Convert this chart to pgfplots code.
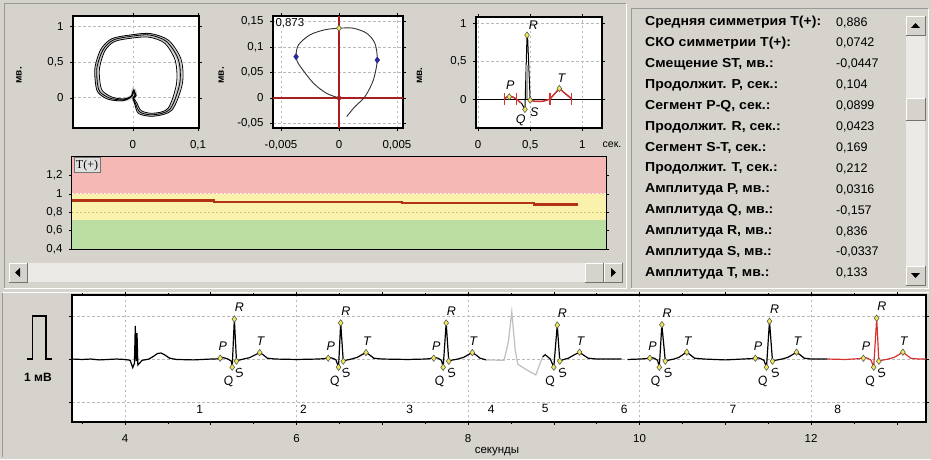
\documentclass[border=0pt]{standalone}
\usepackage{pgfplots}
\pgfplotsset{compat=1.18}
\usepackage{fontspec}
\setmainfont{Liberation Sans}
\newfontfamily\tserif{Liberation Serif}
\definecolor{bg}{RGB}{214,211,205}
\definecolor{track}{RGB}{236,234,230}
\definecolor{zred}{RGB}{246,184,180}
\definecolor{zyel}{RGB}{250,242,172}
\definecolor{zgrn}{RGB}{186,222,162}
\definecolor{tline}{RGB}{178,52,20}
\definecolor{mk}{RGB}{238,232,90}
\definecolor{dred}{RGB}{170,30,30}
\definecolor{navy}{RGB}{40,40,150}
\definecolor{ecgred}{RGB}{215,50,50}
\pgfplotsset{
  panel/.style={scale only axis, anchor=south west,
    axis line style={black, line width=1.3pt},
    axis background/.style={fill=white},
    tick label style={font=\fontsize{11.5}{11.5}\selectfont, black},
    xticklabel style={yshift=-6pt}, yticklabel style={xshift=-3pt},
    tick align=outside, major tick length=3pt, minor tick length=2pt,
    tick style={black, line width=0.6pt},
    grid=major, major grid style={gray!55, dash pattern=on 2.5pt off 2.5pt, line width=0.8pt},
    label style={font=\fontsize{10}{10}\selectfont\bfseries},
    clip=true},
  mkr/.style={only marks, mark=diamond*, mark size=3.2pt,
    mark options={fill=mk, draw=black!70, line width=0.5pt}},
}
\tikzset{lab/.style={font=\fontsize{12.5}{12.5}\selectfont\itshape, inner sep=0pt}}
\newcommand{\tabrow}[3]{%
  \node[anchor=west, inner sep=0pt, font=\fontsize{13}{13}\selectfont\bfseries] at (645,{459-#1}) {\scalebox{1.08}[1]{#2}};
  \node[anchor=west, inner sep=0pt, font=\fontsize{12.5}{12.5}\selectfont] at (836,{459-#1}) {#3};}
\begin{document}
\begin{tikzpicture}[x=1pt,y=1pt]
\fill[bg] (0,0) rectangle (931,459);
% panel frames (sunken)
\draw[black!40, line width=1pt] (4,171) -- (4,455) -- (626,455);
\draw[white, line width=1pt] (4,171) -- (626,171) -- (626,455);
\draw[black!40, line width=1pt] (631,171) -- (631,450) -- (928,450);
\draw[white, line width=1pt] (631,171) -- (928,171) -- (928,450);
\draw[white, line width=1pt] (2,167) -- (929,167);
\draw[black!40, line width=1pt] (2,166) -- (2,2);
% horizontal scrollbar
\fill[track] (9,{459-282}) rectangle (622,{459-263});
\foreach \a/\b in {9/27, 585/603, 604/622}{
  \fill[bg] (\a,{459-282}) rectangle (\b,{459-263});
  \draw[white, line width=0.8pt] (\a,{459-282}) -- (\a,{459-263}) -- (\b,{459-263});
  \draw[black!55, line width=0.8pt] (\a,{459-282}) -- (\b,{459-282}) -- (\b,{459-263});}
\fill[black] (15,{459-272.5}) -- (20,{459-268}) -- (20,{459-277}) -- cycle;
\fill[black] (616,{459-272.5}) -- (611,{459-268}) -- (611,{459-277}) -- cycle;
% vertical scrollbar
\fill[track] (906,{459-285}) rectangle (925,{459-16});
\foreach \a/\b in {16/35, 98/120, 266/285}{
  \fill[bg] (906,{459-\b}) rectangle (925,{459-\a});
  \draw[white, line width=0.8pt] (906,{459-\b}) -- (906,{459-\a}) -- (925,{459-\a});
  \draw[black!55, line width=0.8pt] (906,{459-\b}) -- (925,{459-\b}) -- (925,{459-\a});}
\fill[black] (915.5,{459-23}) -- (911,{459-28}) -- (920,{459-28}) -- cycle;
\fill[black] (915.5,{459-278}) -- (911,{459-273}) -- (920,{459-273}) -- cycle;
% table
\tabrow{22.5}{Средняя симметрия T(+):}{0,886}
\tabrow{43.4}{СКО симметрии T(+):}{0,0742}
\tabrow{64.3}{Смещение ST, мв.:}{-0,0447}
\tabrow{85.2}{Продолжит. P, сек.:}{0,104}
\tabrow{106.1}{Сегмент P-Q, сек.:}{0,0899}
\tabrow{127}{Продолжит. R, сек.:}{0,0423}
\tabrow{147.9}{Сегмент S-T, сек.:}{0,169}
\tabrow{168.8}{Продолжит. T, сек.:}{0,212}
\tabrow{189.7}{Амплитуда P, мв.:}{0,0316}
\tabrow{210.6}{Амплитуда Q, мв.:}{-0,157}
\tabrow{231.5}{Амплитуда R, мв.:}{0,836}
\tabrow{252.4}{Амплитуда S, мв.:}{-0,0337}
\tabrow{273.3}{Амплитуда T, мв.:}{0,133}

% ---------- plot 1: loop ----------
\begin{axis}[panel, at={(73pt,331pt)}, width=126pt, height=112pt,
  xmin=-0.092, xmax=0.1015, ymin=-0.42, ymax=1.14,
  xtick={0,0.1}, xticklabels={0,{0,1}},
  ytick={0,0.5,1}, yticklabels={0,{0,5},1},
  ylabel={мв.}, ylabel style={at={(axis description cs:-0.38,0.47)}}]
\addplot[gray!45, line width=3.5pt, smooth] coordinates {(0,0) (0.004,-0.08) (0.011,-0.2) (0.031,-0.236) (0.057,-0.157) (0.072,0.204) (0.070,0.528) (0.052,0.782) (0.026,0.875) (0.0005,0.861) (-0.030,0.806) (-0.046,0.667) (-0.055,0.435) (-0.055,0.25) (-0.051,0.088) (-0.035,-0.005) (-0.015,-0.028) (-0.002,0.02) (0.001,0.11) (0.004,0.04) (0,0)};
\addplot[black, line width=0.8pt, smooth] coordinates {(0,0) (0.004,-0.08) (0.011,-0.2) (0.031,-0.236) (0.057,-0.157) (0.072,0.204) (0.070,0.528) (0.052,0.782) (0.026,0.875) (0.0005,0.861) (-0.030,0.806) (-0.046,0.667) (-0.055,0.435) (-0.055,0.25) (-0.051,0.088) (-0.035,-0.005) (-0.015,-0.028) (-0.002,0.02) (0.001,0.11) (0.004,0.04) (0,0)};
\addplot[black, line width=0.8pt, smooth] coordinates {(0,0.01) (0.006,-0.07) (0.013,-0.18) (0.031,-0.215) (0.054,-0.145) (0.067,0.2) (0.065,0.52) (0.049,0.76) (0.025,0.845) (0.001,0.835) (-0.028,0.785) (-0.043,0.655) (-0.051,0.43) (-0.051,0.25) (-0.047,0.1) (-0.032,0.01) (-0.014,-0.015) (-0.001,0.03) (0.002,0.1) (0.003,0.03) (0,0.01)};
\addplot[black, line width=0.8pt, smooth] coordinates {(0,-0.01) (0.003,-0.09) (0.009,-0.22) (0.032,-0.255) (0.06,-0.17) (0.076,0.2) (0.074,0.535) (0.055,0.8) (0.027,0.895) (0,0.88) (-0.032,0.825) (-0.049,0.68) (-0.058,0.44) (-0.058,0.25) (-0.054,0.08) (-0.038,-0.02) (-0.016,-0.04) (-0.003,0.01) (0,0.09) (0.005,0.03) (0,-0.01)};
\end{axis}

% ---------- plot 2 ----------
\begin{axis}[panel, at={(273pt,331pt)}, width=130pt, height=112pt,
  xmin=-0.00569, xmax=0.00552, ymin=-0.059, ymax=0.161,
  xtick={-0.005,0,0.005}, xticklabels={{-0,005},0,{0,005}},
  ytick={-0.05,0,0.05,0.1,0.15}, yticklabels={{-0,05},0,{0,05},{0,1},{0,15}},
  scaled x ticks=false, scaled y ticks=false,
  ylabel={мв.}, ylabel style={at={(axis description cs:-0.35,0.47)}}]
\addplot[dred, line width=1.6pt] coordinates {(0,-0.059) (0,0.161)};
\addplot[dred, line width=1.6pt] coordinates {(-0.00569,0) (0.00552,0)};
\addplot[black!80, line width=0.9pt, smooth] coordinates {(0.00066,-0.0366) (0.00138,-0.017) (0.00224,0.0026) (0.00296,0.035) (0.0033,0.0745) (0.0031,0.107) (0.0024,0.127) (0.00123,0.137) (0,0.137) (-0.0012,0.134) (-0.0025,0.124) (-0.0035,0.104) (-0.0037,0.081) (-0.0034,0.064) (-0.0022,0.029) (-0.00106,0.009) (0,0)};
\addplot[only marks, mark=*, mark size=2pt, dred] coordinates {(0,0)};
\addplot[only marks, mark=diamond*, mark size=3.2pt, navy] coordinates {(0.0033,0.0745) (-0.0037,0.081)};
\addplot[mkr] coordinates {(0,0.137)};
\node[anchor=north west, inner sep=1pt, font=\fontsize{11.5}{11.5}\selectfont, fill=white] at (axis description cs:0.01,0.99) {0,873};
\end{axis}

% ---------- plot 3 ----------
\begin{axis}[panel, at={(476pt,331pt)}, width=126pt, height=111pt,
  xmin=-0.02, xmax=1.19, ymin=-0.38, ymax=1.08,
  xtick={0,0.5,1}, xticklabels={0,{0,5},1},
  ytick={0,0.5,1}, yticklabels={0,{0,5},1},
  ylabel={мв.}, ylabel style={at={(axis description cs:-0.40,0.47)}}]
\addplot[black, line width=1pt] coordinates {(-0.02,0) (1.19,0)};
\addplot[black, line width=1pt] coordinates {(0.25,0) (0.28,0.03) (0.30,0.04) (0.33,0.03) (0.37,0) (0.42,-0.06) (0.45,-0.136) (0.47,0.842) (0.475,0.842) (0.50,-0.013) (0.55,-0.03) (0.62,-0.03) (0.69,0) (0.78,0.14) (0.90,0)};
\addplot[gray!70, line width=2pt] coordinates {(0.472,0) (0.472,0.45)};
\addplot[ecgred, line width=1.3pt] coordinates {(0.25,0) (0.28,0.03) (0.30,0.04) (0.33,0.03) (0.37,0) (0.41,-0.05)};
\addplot[ecgred, line width=1.3pt] coordinates {(0.50,-0.013) (0.55,-0.03) (0.62,-0.03) (0.69,0) (0.78,0.14) (0.90,0)};
\addplot[ecgred, line width=1.2pt] coordinates {(0.25,-0.08) (0.25,0.08)};
\addplot[ecgred, line width=1.2pt] coordinates {(0.37,-0.08) (0.37,0.08)};
\addplot[ecgred, line width=1.2pt] coordinates {(0.69,-0.08) (0.69,0.08)};
\addplot[ecgred, line width=1.2pt] coordinates {(0.90,-0.08) (0.90,0.08)};
\addplot[mkr] coordinates {(0.30,0.03) (0.45,-0.136) (0.47,0.842) (0.50,-0.013) (0.78,0.14)};
\node[lab] at (axis cs:0.53,0.97) {R};
\node[lab] at (axis cs:0.31,0.18) {P};
\node[lab] at (axis cs:0.41,-0.28) {Q};
\node[lab] at (axis cs:0.54,-0.17) {S};
\node[lab] at (axis cs:0.80,0.27) {T};
\end{axis}
\node[font=\fontsize{10.5}{10.5}\selectfont] at (612,{459-145}) {сек.};

% ---------- plot 4: T(+) ----------
\begin{axis}[panel, at={(72pt,210pt)}, width=534pt, height=92pt,
  xmin=0, xmax=100, ymin=0.4, ymax=1.4, grid=none,
  xtick=\empty, minor xtick={0,0.75,...,100},
  ytick={0.4,0.6,0.8,1,1.2}, yticklabels={{0,4},{0,6},{0,8},1,{1,2}}]
\fill[zred] (axis cs:0,1) rectangle (axis cs:100,1.4);
\fill[zyel] (axis cs:0,0.71) rectangle (axis cs:100,1);
\fill[zgrn] (axis cs:0,0.4) rectangle (axis cs:100,0.71);
\addplot[yellow!50!gray!90, dash pattern=on 2pt off 2pt, line width=0.8pt] coordinates {(0,0.8) (100,0.8)};
\addplot[white!80!zred, dash pattern=on 2pt off 2pt, line width=0.8pt] coordinates {(0,1.0) (100,1.0)};
\addplot[tline, line width=2.3pt, const plot] coordinates {(0,0.927) (26.6,0.912) (61.8,0.898) (86.5,0.883) (94.8,0.883)};
\node[anchor=north west, inner sep=2pt, fill=black!12, draw=black!55, line width=0.7pt, font=\tserif\fontsize{12}{12}\selectfont] at (axis description cs:0.003,0.995) {T(+)};
\end{axis}

% ---------- bottom ECG ----------
\draw[black, line width=1.4pt] (27,100) -- (32.5,100) -- (32.5,143) -- (46,143) -- (46,100) -- (51.5,100);
\node[font=\fontsize{12}{12}\selectfont\bfseries] at (38,{459-377}) {1 мВ};
\begin{axis}[panel, at={(72pt,37pt)}, width=854pt, height=127pt,
  xmin=3.382, xmax=13.34, ymin=-1.465, ymax=1.49,
  xtick={4,6,8,10,12}, xticklabels={4,6,8,10,12},
  minor xtick={3.5,4.5,...,13}, extra x ticks={5,7,9,11,13}, extra x tick labels={},
  extra x tick style={grid=none},
  ytick={-1,0,1}, yticklabels={}]
\addplot[black, line width=1.2pt] coordinates {(3.382,0.0) (3.5,-0.01) (3.6,0.0) (3.7,-0.02) (3.8,-0.01) (3.9,0.0) (4.0,-0.01) (4.06,-0.03) (4.09,-0.2) (4.11,-0.1) (4.12,0.77) (4.13,-0.05) (4.14,0.6) (4.15,-0.14) (4.2,-0.03) (4.28,0.0) (4.33,0.06) (4.38,0.13) (4.42,0.14) (4.46,0.1) (4.52,0.02) (4.6,-0.01) (4.8,-0.02) (5.0,0.0) (5.05,0.0) (5.09,0.01) (5.13,0.04) (5.17,0.02) (5.2,0.0) (5.24,-0.05) (5.25,-0.19) (5.275,0.93) (5.30,-0.05) (5.32,-0.03) (5.38,0.0) (5.45,0.03) (5.52,0.1) (5.57,0.15) (5.61,0.1) (5.66,0.02) (5.75,0.0) (6.0,-0.01) (6.25,0.0) (6.33,0.01) (6.37,0.04) (6.42,0.02) (6.46,-0.02) (6.49,-0.19) (6.515,0.84) (6.545,-0.05) (6.57,-0.03) (6.64,0.0) (6.71,0.04) (6.77,0.11) (6.81,0.15) (6.85,0.1) (6.9,0.02) (7.0,0.0) (7.3,-0.01) (7.5,0.0) (7.56,0.01) (7.60,0.04) (7.65,0.02) (7.69,-0.03) (7.71,-0.19) (7.745,0.84) (7.775,-0.05) (7.80,-0.03) (7.88,0.0) (7.95,0.04) (8.01,0.11) (8.05,0.15) (8.09,0.1) (8.14,0.02) (8.21,-0.02)};
\addplot[gray!50, line width=1.2pt] coordinates {(8.21,-0.02) (8.42,-0.03) (8.47,0.4) (8.51,1.1) (8.55,0.2) (8.58,-0.12) (8.68,-0.25) (8.79,-0.37) (8.84,-0.1) (8.87,0.05)};
\addplot[black, line width=1.2pt] coordinates {(8.87,0.05) (8.9,0.1) (8.93,0.05) (8.96,0.0) (9.0,-0.19) (9.04,0.79) (9.07,-0.05) (9.1,-0.02) (9.17,0.02) (9.24,0.1) (9.30,0.16) (9.34,0.1) (9.40,0.02) (9.5,0.0) (9.79,0.0)};
\addplot[black, line width=1.2pt] coordinates {(9.86,-0.01) (10.0,0.0) (10.08,0.01) (10.12,0.04) (10.17,0.02) (10.21,-0.03) (10.23,-0.19) (10.26,0.8) (10.30,-0.05) (10.33,-0.03) (10.40,0.0) (10.46,0.04) (10.51,0.11) (10.55,0.16) (10.59,0.1) (10.64,0.02) (10.75,0.0) (11.0,-0.02) (11.2,0.0) (11.31,0.01) (11.35,0.04) (11.40,0.02) (11.45,-0.03) (11.48,-0.19) (11.515,0.88) (11.55,-0.05) (11.58,-0.03) (11.66,0.0) (11.73,0.04) (11.79,0.11) (11.83,0.16) (11.87,0.1) (11.92,0.02) (12.0,0.0) (12.19,0.0)};
\addplot[ecgred, line width=1.2pt] coordinates {(12.19,0.0) (12.4,-0.01) (12.57,0.01) (12.61,0.04) (12.66,0.02) (12.70,-0.03) (12.73,-0.19) (12.765,0.95) (12.79,-0.05) (12.82,-0.03) (12.9,0.0) (12.97,0.04) (13.03,0.11) (13.07,0.16) (13.11,0.1) (13.16,0.02) (13.25,0.0) (13.34,0.0)};
\addplot[mkr] coordinates {
 (5.11,0.02) (5.25,-0.19) (5.275,0.93) (5.30,-0.05) (5.57,0.15)
 (6.37,0.02) (6.49,-0.19) (6.515,0.84) (6.545,-0.05) (6.81,0.15)
 (7.60,0.02) (7.71,-0.19) (7.745,0.84) (7.775,-0.05) (8.05,0.15)
 (9.0,-0.19) (9.04,0.79) (9.07,-0.05) (9.30,0.16)
 (10.12,0.02) (10.23,-0.19) (10.26,0.8) (10.30,-0.05) (10.55,0.16)
 (11.35,0.02) (11.48,-0.19) (11.515,0.88) (11.55,-0.05) (11.83,0.16)
 (12.61,0.02) (12.73,-0.19) (12.765,0.95) (12.79,-0.05) (13.07,0.16)};
% P labels
\node[lab] at (axis cs:5.14,0.29) {P};
\node[lab] at (axis cs:6.40,0.29) {P};
\node[lab] at (axis cs:7.63,0.29) {P};
\node[lab] at (axis cs:10.15,0.29) {P};
\node[lab] at (axis cs:11.38,0.29) {P};
\node[lab] at (axis cs:12.64,0.29) {P};
% R labels
\node[lab] at (axis cs:5.335,1.20) {R};
\node[lab] at (axis cs:6.575,1.11) {R};
\node[lab] at (axis cs:7.805,1.11) {R};
\node[lab] at (axis cs:9.10,1.06) {R};
\node[lab] at (axis cs:10.32,1.07) {R};
\node[lab] at (axis cs:11.575,1.15) {R};
\node[lab] at (axis cs:12.825,1.22) {R};
% Q labels
\node[lab, rotate=20] at (axis cs:5.21,-0.53) {Q};
\node[lab, rotate=20] at (axis cs:6.45,-0.53) {Q};
\node[lab, rotate=20] at (axis cs:7.67,-0.53) {Q};
\node[lab, rotate=20] at (axis cs:8.96,-0.53) {Q};
\node[lab, rotate=20] at (axis cs:10.19,-0.53) {Q};
\node[lab, rotate=20] at (axis cs:11.44,-0.53) {Q};
\node[lab, rotate=20] at (axis cs:12.69,-0.53) {Q};
% S labels
\node[lab, rotate=20] at (axis cs:5.33,-0.33) {S};
\node[lab, rotate=20] at (axis cs:6.575,-0.33) {S};
\node[lab, rotate=20] at (axis cs:7.805,-0.33) {S};
\node[lab, rotate=20] at (axis cs:9.10,-0.33) {S};
\node[lab, rotate=20] at (axis cs:10.33,-0.33) {S};
\node[lab, rotate=20] at (axis cs:11.58,-0.33) {S};
\node[lab, rotate=20] at (axis cs:12.82,-0.33) {S};
% T labels
\node[lab] at (axis cs:5.58,0.42) {T};
\node[lab] at (axis cs:6.82,0.42) {T};
\node[lab] at (axis cs:8.06,0.42) {T};
\node[lab] at (axis cs:9.31,0.42) {T};
\node[lab] at (axis cs:10.56,0.42) {T};
\node[lab] at (axis cs:11.84,0.42) {T};
\node[lab] at (axis cs:13.08,0.42) {T};
% beat numbers
\node[font=\fontsize{12}{12}\selectfont] at (axis cs:4.87,-1.16) {1};
\node[font=\fontsize{12}{12}\selectfont] at (axis cs:6.08,-1.16) {2};
\node[font=\fontsize{12}{12}\selectfont] at (axis cs:7.32,-1.16) {3};
\node[font=\fontsize{12}{12}\selectfont] at (axis cs:8.27,-1.16) {4};
\node[font=\fontsize{12}{12}\selectfont] at (axis cs:8.90,-1.16) {5};
\node[font=\fontsize{12}{12}\selectfont] at (axis cs:9.82,-1.16) {6};
\node[font=\fontsize{12}{12}\selectfont] at (axis cs:11.09,-1.16) {7};
\node[font=\fontsize{12}{12}\selectfont] at (axis cs:12.31,-1.16) {8};
\end{axis}
\node[font=\fontsize{11.5}{11.5}\selectfont] at (497,{459-452}) {секунды};
\pgfresetboundingbox
\useasboundingbox (0,0) rectangle (931,459);
\end{tikzpicture}
\end{document}
